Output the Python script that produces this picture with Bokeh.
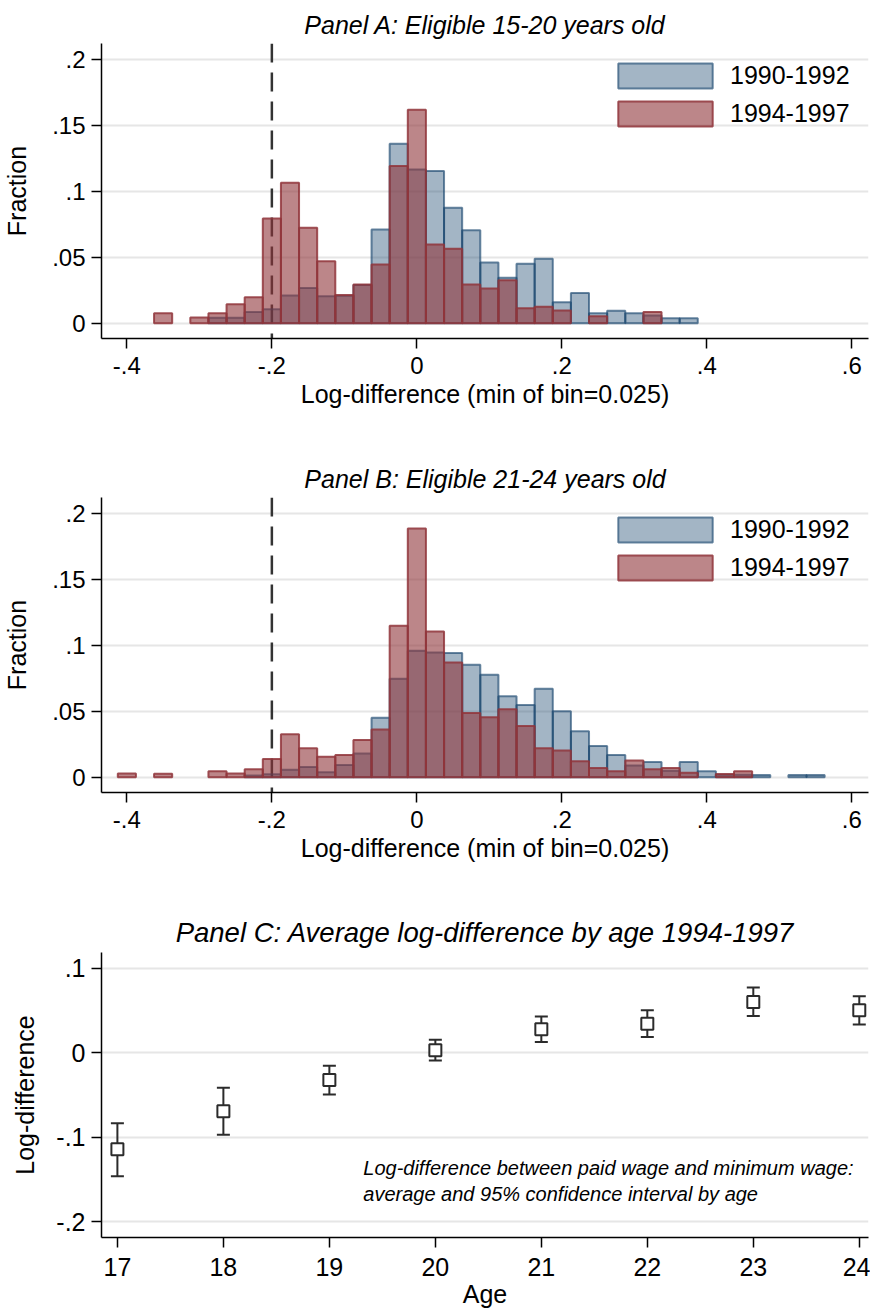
from bokeh.plotting import figure
from bokeh.layouts import column
from bokeh.models import ColumnDataSource, Span, Legend, LegendItem, FixedTicker, Label
from bokeh.embed import file_html
from bokeh.resources import INLINE

FONT = "Liberation Sans"
BIN_WIDTH = 0.025

# ---------------- Panel A data ----------------
a_centers = [-0.35, -0.325, -0.3, -0.275, -0.25, -0.225, -0.2, -0.175, -0.15, -0.125,
             -0.1, -0.075, -0.05, -0.025, 0.0, 0.025, 0.05, 0.075, 0.1, 0.125,
             0.15, 0.175, 0.2, 0.225, 0.25, 0.275, 0.3, 0.325, 0.35, 0.375]
a_1990_1992 = [0, 0, 0, 0.0043, 0.0043, 0.0086, 0.0106, 0.0212, 0.0268, 0.0205,
               0.0210, 0.0290, 0.0712, 0.1362, 0.1167, 0.1155, 0.0876, 0.0705, 0.0462, 0.0346,
               0.0452, 0.0490, 0.0159, 0.0230, 0.0076, 0.0096, 0.0076, 0.0060, 0.0038, 0.0038]
a_1994_1997 = [0.0076, 0, 0.0045, 0.0076, 0.0144, 0.0197, 0.0795, 0.1066, 0.0725, 0.0470,
               0.0215, 0.0295, 0.0447, 0.1194, 0.1619, 0.0597, 0.0566, 0.0295, 0.0265, 0.0326,
               0.0114, 0.0126, 0.0098, 0, 0.0053, 0, 0, 0.0086, 0, 0]

# ---------------- Panel B data ----------------
b_centers = [-0.4, -0.375, -0.35, -0.325, -0.3, -0.275, -0.25, -0.225, -0.2, -0.175,
             -0.15, -0.125, -0.1, -0.075, -0.05, -0.025, 0.0, 0.025, 0.05, 0.075,
             0.1, 0.125, 0.15, 0.175, 0.2, 0.225, 0.25, 0.275, 0.3, 0.325,
             0.35, 0.375, 0.4, 0.425, 0.45, 0.475, 0.5, 0.525, 0.55]
b_1990_1992 = [0, 0, 0, 0, 0, 0, 0, 0.0013, 0.0023, 0.0058,
               0.0078, 0.0038, 0.0094, 0.0180, 0.0451, 0.0747, 0.0960, 0.0947, 0.0942, 0.0853,
               0.0778, 0.0615, 0.0549, 0.0671, 0.0501, 0.0349, 0.0238, 0.0170, 0.0090, 0.0116,
               0.0050, 0.0116, 0.0046, 0.0020, 0.0020, 0.0018, 0, 0.0018, 0.0018]
b_1994_1997 = [0.0030, 0, 0.0028, 0, 0, 0.0046, 0.0030, 0.0061, 0.0139, 0.0327,
               0.0220, 0.0157, 0.0170, 0.0284, 0.0362, 0.1149, 0.1886, 0.1105, 0.0871, 0.0487,
               0.0456, 0.0517, 0.0390, 0.0220, 0.0203, 0.0122, 0.0071, 0.0046, 0.0127, 0.0061,
               0.0071, 0.0035, 0, 0.0025, 0.0046, 0, 0, 0, 0]

hist_xticks = [-0.4, -0.2, 0.0, 0.2, 0.4, 0.6]
hist_xlabels = ["-.4", "-.2", "0", ".2", ".4", ".6"]
hist_yticks = [0.0, 0.05, 0.1, 0.15, 0.2]
hist_ylabels = ["0", ".05", ".1", ".15", ".2"]
threshold = -0.2

# ---------------- Panel C data ----------------
ages = [17, 18, 19, 20, 21, 22, 23, 24]
mean_diff = [-0.1142, -0.0693, -0.0322, 0.0030, 0.0276, 0.0341, 0.0598, 0.0502]
ci_low = [-0.1460, -0.0969, -0.0494, -0.0092, 0.0126, 0.0184, 0.0433, 0.0333]
ci_high = [-0.0835, -0.0414, -0.0153, 0.0153, 0.0429, 0.0502, 0.0770, 0.0667]
c_yticks = [-0.2, -0.1, 0.0, 0.1]
c_ylabels = ["-.2", "-.1", "0", ".1"]
c_xticks = ages

BLUE = "#1a476f"
RED = "#90353b"
GRID = "#e6e6e6"


def style_axes(p, tick_size="24px", label_size="25px", title_size="25px"):
    for ax in (p.xaxis[0], p.yaxis[0]):
        ax.axis_line_color = "black"
        ax.axis_line_width = 1.5
        ax.major_tick_line_color = "black"
        ax.major_tick_line_width = 1.5
        ax.major_tick_in = 0
        ax.major_tick_out = 10
        ax.minor_tick_line_color = None
        ax.major_label_text_font = FONT
        ax.major_label_text_font_size = tick_size
        ax.major_label_text_color = "black"
        ax.axis_label_text_font = FONT
        ax.axis_label_text_font_size = label_size
        ax.axis_label_text_font_style = "normal"
        ax.axis_label_text_color = "black"
    p.xgrid.visible = False
    p.ygrid.grid_line_color = GRID
    p.ygrid.grid_line_width = 2
    p.outline_line_color = None
    p.title.text_font = FONT
    p.title.text_font_size = title_size
    p.title.text_font_style = "italic"
    p.title.align = "center"
    p.title.text_color = "black"


def hist_panel(title, centers, v1, v2, height, top, bottom):
    p = figure(width=870, height=height, x_range=(-0.435, 0.623), y_range=(-0.0115, 0.2122),
               output_backend="svg", toolbar_location=None, title=title,
               min_border_left=98, min_border_right=2, min_border_top=top, min_border_bottom=bottom)
    style_axes(p)
    p.xaxis.ticker = FixedTicker(ticks=hist_xticks)
    p.xaxis.major_label_overrides = dict(zip(hist_xticks, hist_xlabels))
    p.yaxis.ticker = FixedTicker(ticks=hist_yticks)
    p.yaxis.major_label_overrides = dict(zip(hist_yticks, hist_ylabels))
    p.xaxis.axis_label = "Log-difference (min of bin=0.025)"
    p.yaxis.axis_label = "Fraction"
    p.xaxis.major_label_standoff = 8
    p.xaxis.axis_label_standoff = 3
    p.yaxis.major_label_standoff = 6
    p.yaxis.axis_label_standoff = 18

    span = Span(location=threshold, dimension="height", line_color="#333333",
                line_width=2.5, line_dash="19 10", level="underlay")
    p.add_layout(span)

    def src(vals):
        c = [x for x, v in zip(centers, vals) if v > 0]
        t = [v for v in vals if v > 0]
        return ColumnDataSource(dict(left=[x - BIN_WIDTH / 2 for x in c],
                                     right=[x + BIN_WIDTH / 2 for x in c], top=t))

    rb = p.quad(left="left", right="right", bottom=0, top="top", source=src(v1),
                fill_color=BLUE, fill_alpha=0.4, line_color=BLUE, line_alpha=0.65, line_width=2)
    rr = p.quad(left="left", right="right", bottom=0, top="top", source=src(v2),
                fill_color=RED, fill_alpha=0.6, line_color=RED, line_alpha=0.85, line_width=2)

    legend = Legend(items=[LegendItem(label="1990-1992", renderers=[rb]),
                           LegendItem(label="1994-1997", renderers=[rr])],
                    location=(505, 209), glyph_width=118, glyph_height=31, label_height=31,
                    label_standoff=6, spacing=7, padding=0, margin=0,
                    border_line_color=None, background_fill_alpha=0,
                    label_text_font=FONT, label_text_font_size="25px",
                    label_text_color="black")
    p.add_layout(legend)
    return p


pA = hist_panel("Panel A: Eligible 15-20 years old", a_centers, a_1990_1992, a_1994_1997,
                455, 43, 117)
pB = hist_panel("Panel B: Eligible 21-24 years old", b_centers, b_1990_1992, b_1994_1997,
                445, 42, 108)

# ---------------- Panel C ----------------
pC = figure(width=870, height=410, x_range=(16.85, 24.087), y_range=(-0.2184, 0.1184),
            output_backend="svg", toolbar_location=None,
            title="Panel C: Average log-difference by age 1994-1997",
            min_border_left=93, min_border_right=0, min_border_top=52, min_border_bottom=65)
style_axes(pC, tick_size="25px", label_size="25px", title_size="27.5px")
pC.xaxis.ticker = FixedTicker(ticks=c_xticks)
pC.yaxis.ticker = FixedTicker(ticks=c_yticks)
pC.yaxis.major_label_overrides = dict(zip(c_yticks, c_ylabels))
pC.xaxis.axis_label = "Age"
pC.yaxis.axis_label = "Log-difference"
pC.xaxis.major_label_standoff = 10
pC.xaxis.axis_label_standoff = 1
pC.yaxis.major_label_standoff = 6
pC.yaxis.axis_label_standoff = 14

csrc = ColumnDataSource(dict(age=ages, mean=mean_diff, lo=ci_low, hi=ci_high))
EC = "#2b2b2b"
pC.segment(x0="age", y0="lo", x1="age", y1="hi", source=csrc, line_color=EC, line_width=2)
pC.scatter(x="age", y="lo", source=csrc, marker="dash", size=13, line_color=EC, line_width=2)
pC.scatter(x="age", y="hi", source=csrc, marker="dash", size=13, line_color=EC, line_width=2)
pC.scatter(x="age", y="mean", source=csrc, marker="square", size=12, line_color=EC,
           line_width=2, fill_color="white")

note_lines = ["Log-difference between paid wage and minimum wage:",
              "average and 95% confidence interval by age"]
note_y = [-0.1368, -0.1667]
for txt, yy in zip(note_lines, note_y):
    pC.add_layout(Label(x=19.32, y=yy, text=txt, text_font=FONT, text_font_size="20px",
                        text_font_style="italic", text_baseline="middle", text_align="left",
                        text_color="black"))

layout = column(pA, pB, pC, spacing=0)
open("out.html", "w").write(file_html(layout, INLINE))
